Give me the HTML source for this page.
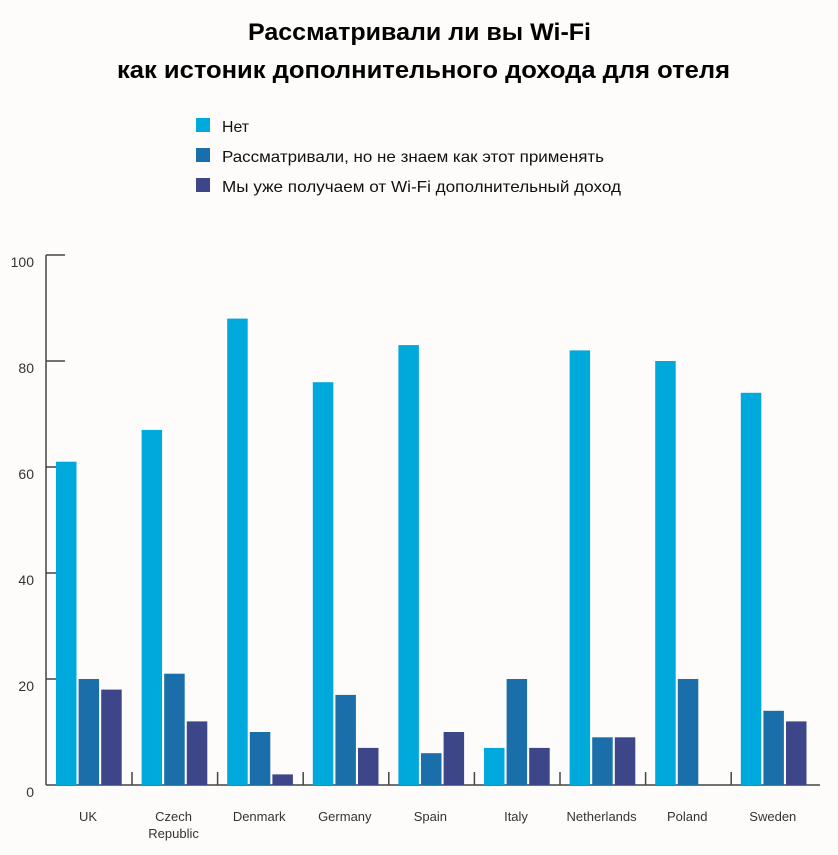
<!DOCTYPE html>
<html><head><meta charset="utf-8"><style>
body{margin:0;background:#fdfcfa;}
svg{display:block}
</style></head><body>
<svg width="838" height="855" xmlns="http://www.w3.org/2000/svg" font-family="Liberation Sans, DejaVu Sans, sans-serif">
<rect width="838" height="855" fill="#fdfcfa"/>
<text x="248" y="40" textLength="343" lengthAdjust="spacingAndGlyphs" font-size="24" font-weight="bold" fill="#000">Рассматривали ли вы Wi-Fi</text>
<text x="117" y="78" textLength="613" lengthAdjust="spacingAndGlyphs" font-size="24" font-weight="bold" fill="#000">как истоник дополнительного дохода для отеля</text>
<rect x="196" y="118" width="14" height="14" fill="#00a9db"/>
<text x="222" y="132" textLength="27" lengthAdjust="spacingAndGlyphs" font-size="16" fill="#111">Нет</text>
<rect x="196" y="148" width="14" height="14" fill="#1a6fab"/>
<text x="222" y="162" textLength="382" lengthAdjust="spacingAndGlyphs" font-size="16" fill="#111">Рассматривали, но не знаем как этот применять</text>
<rect x="196" y="178" width="14" height="14" fill="#3d4689"/>
<text x="222" y="192" textLength="399" lengthAdjust="spacingAndGlyphs" font-size="16" fill="#111">Мы уже получаем от Wi-Fi дополнительный доход</text>
<g stroke="#444" stroke-width="1.5">
<line x1="46" y1="255" x2="46" y2="785"/>
<line x1="46" y1="255" x2="65" y2="255"/>
<line x1="46" y1="361" x2="65" y2="361"/>
<line x1="46" y1="467" x2="65" y2="467"/>
<line x1="46" y1="573" x2="65" y2="573"/>
<line x1="46" y1="679" x2="65" y2="679"/>
<line x1="46" y1="785" x2="820" y2="785"/>
</g>
<g font-size="14" fill="#333" text-anchor="end">
<text x="34" y="267">100</text><text x="34" y="373">80</text><text x="34" y="479">60</text>
<text x="34" y="585">40</text><text x="34" y="691">20</text><text x="34" y="797">0</text>
</g>
<g id="bars"></g>
<g id="labels" font-size="13" fill="#333" text-anchor="middle"></g>
<script>
var d=[["UK",61,20,18],["Czech|Republic",67,21,12],["Denmark",88,10,2],["Germany",76,17,7],["Spain",83,6,10],["Italy",7,20,7],["Netherlands",82,9,9],["Poland",80,20,0],["Sweden",74,14,12]];
var c=["#00a9db","#1a6fab","#3d4689"],ns="http://www.w3.org/2000/svg";
var b=document.getElementById("bars"),l=document.getElementById("labels");
d.forEach(function(g,i){
 var x0=56+i*85.6;
 for(var k=0;k<3;k++){var v=g[k+1];if(!v)continue;var r=document.createElementNS(ns,"rect");
  var h=v*5.3;r.setAttribute("x",x0+k*22.6);r.setAttribute("y",785-h);r.setAttribute("width",20.5);r.setAttribute("height",h);r.setAttribute("fill",c[k]);b.appendChild(r);}
 if(i<8){var s=document.createElementNS(ns,"line");var sx=x0+76;s.setAttribute("x1",sx);s.setAttribute("x2",sx);s.setAttribute("y1",772);s.setAttribute("y2",785);s.setAttribute("stroke","#444");s.setAttribute("stroke-width","1.5");b.appendChild(s);}
 g[0].split("|").forEach(function(t,j){var e=document.createElementNS(ns,"text");e.setAttribute("x",x0+32);e.setAttribute("y",821+j*17);e.textContent=t;l.appendChild(e);});
});
</script>
</svg>
</body></html>
